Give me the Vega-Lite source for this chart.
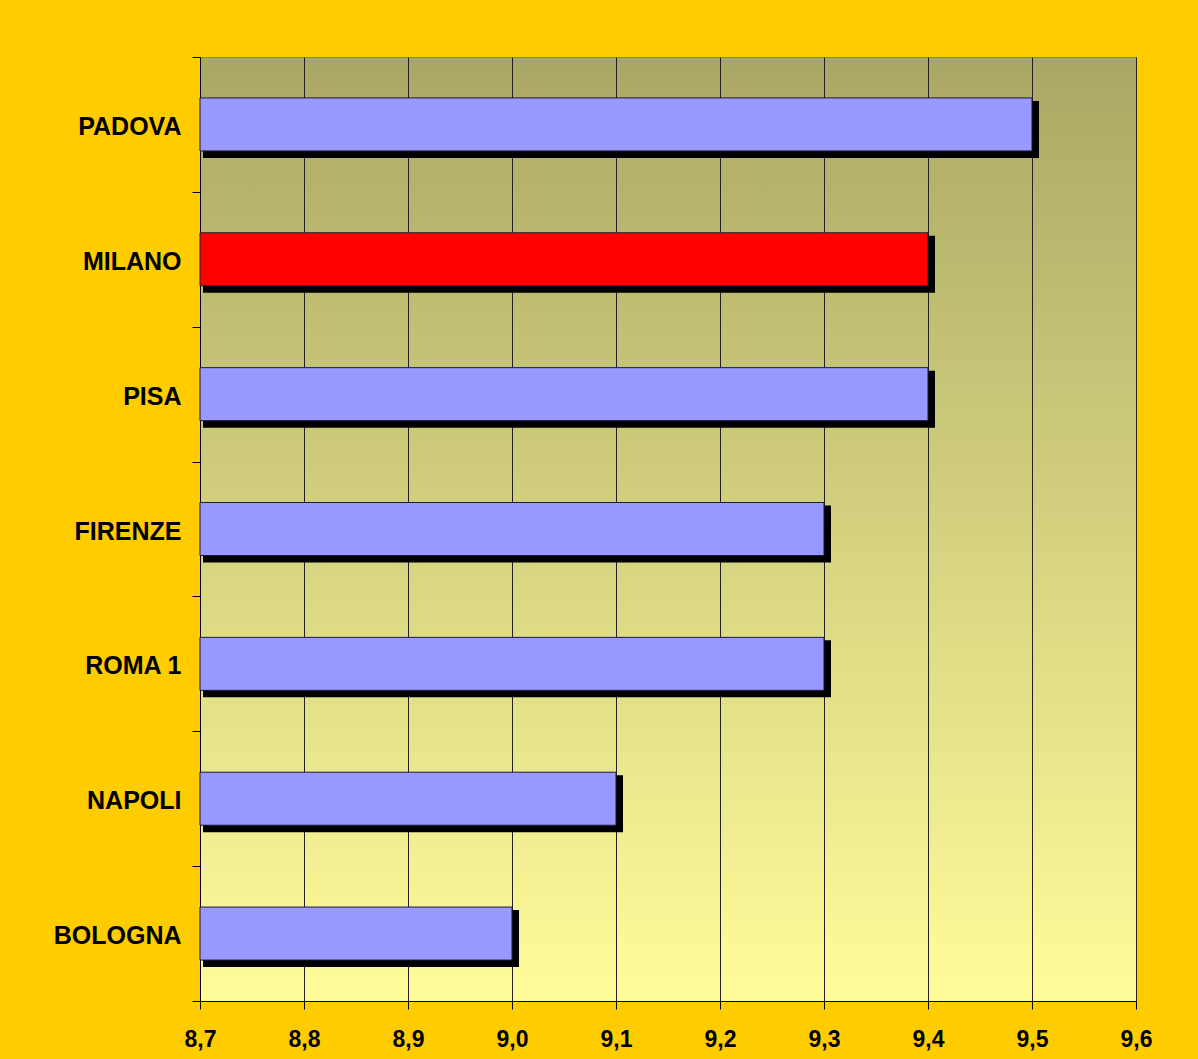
{
  "$schema": "https://vega.github.io/schema/vega-lite/v6.json",
  "autosize": {"type": "none"},
  "padding": {"left": 200, "top": 57, "right": 62, "bottom": 58},
  "width": 936,
  "height": 944,
  "background": "#FFCC00",
  "config": {
    "view": {
      "stroke": "#808080",
      "strokeWidth": 1,
      "fill": {
        "gradient": "linear",
        "x1": 0, "y1": 0, "x2": 0, "y2": 1,
        "stops": [
          {"offset": 0, "color": "#A9A764"},
          {"offset": 1, "color": "#FFFD9A"}
        ]
      }
    },
    "font": "Liberation Sans"
  },
  "data": {
    "values": [
      {"sede": "PADOVA", "voto": 9.5},
      {"sede": "MILANO", "voto": 9.4},
      {"sede": "PISA", "voto": 9.4},
      {"sede": "FIRENZE", "voto": 9.3},
      {"sede": "ROMA 1", "voto": 9.3},
      {"sede": "NAPOLI", "voto": 9.1},
      {"sede": "BOLOGNA", "voto": 9.0}
    ]
  },
  "encoding": {
    "y": {
      "field": "sede",
      "type": "nominal",
      "sort": null,
      "scale": {"padding": 0},
      "axis": {
        "title": null,
        "tickBand": "extent",
        "tickSize": 8,
        "tickColor": "#000",
        "domainColor": "#000",
        "labelPadding": 11,
        "labelOffset": 2,
        "labelFont": "Liberation Sans",
        "labelFontWeight": "bold",
        "labelFontSize": 25,
        "labelColor": "#000"
      }
    },
    "x": {
      "field": "voto",
      "type": "quantitative",
      "scale": {"domain": [8.7, 9.6], "zero": false, "nice": false},
      "axis": {
        "title": null,
        "values": [8.7, 8.8, 8.9, 9.0, 9.1, 9.2, 9.3, 9.4, 9.5, 9.6],
        "labelExpr": "replace(format(datum.value, '.1f'), '.', ',')",
        "grid": true,
        "gridColor": "#222",
        "gridWidth": 1,
        "tickSize": 8,
        "tickColor": "#000",
        "domainColor": "#000",
        "labelPadding": 19,
        "labelFlush": false,
        "labelFont": "Liberation Sans",
        "labelFontWeight": "bold",
        "labelFontSize": 23,
        "labelColor": "#000"
      }
    },
    "x2": {"datum": 8.7}
  },
  "layer": [
    {
      "mark": {
        "type": "bar",
        "color": "#000",
        "size": 57,
        "xOffset": 7,
        "x2Offset": 3,
        "yOffset": 5
      }
    },
    {
      "mark": {
        "type": "bar",
        "size": 53,
        "stroke": "#1a1a40",
        "strokeWidth": 1
      },
      "encoding": {
        "fill": {
          "condition": {"test": "datum.sede === 'MILANO'", "value": "#FF0000"},
          "value": "#9999FF"
        }
      }
    }
  ]
}
